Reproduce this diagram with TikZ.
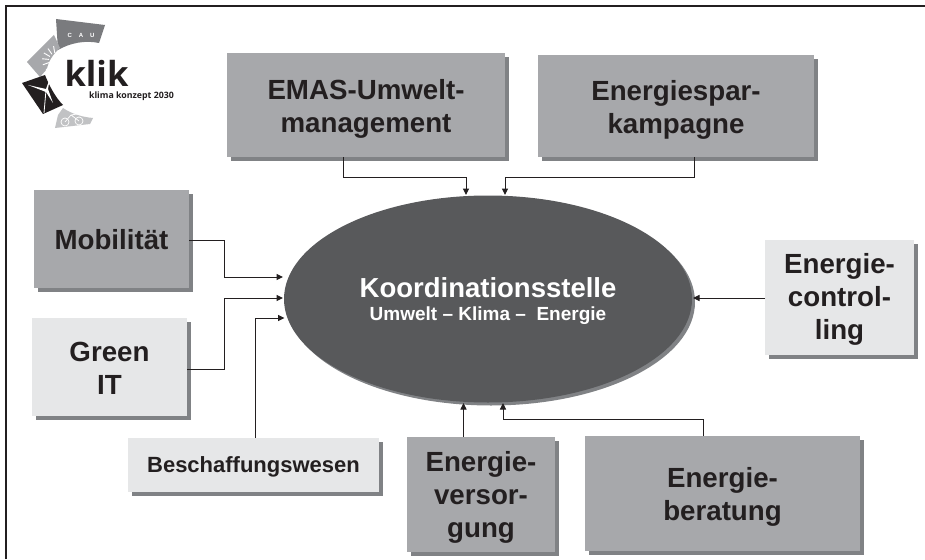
\documentclass[tikz,border=0pt]{standalone}
\usepackage{fontspec}
\setmainfont{Liberation Sans}
\newfontfamily\logofont{Open Sans}
\usetikzlibrary{arrows.meta,shapes.geometric,shadows}
\definecolor{midgrey}{HTML}{A7A8AB}
\definecolor{lightgrey}{HTML}{E6E7E8}
\definecolor{shadowgrey}{HTML}{808285}
\definecolor{darkgrey}{HTML}{58595B}
\definecolor{inkblack}{HTML}{231F20}
\newcommand\topgap[1]{\rule{0pt}{#1pt}}
\tikzset{
  sized/.style 2 args={minimum width=#1pt,minimum height=#2pt},
  basebox/.style={rectangle,inner sep=0pt,outer sep=0pt,align=center,text=inkblack,
    font=\fontsize{27.7}{33}\selectfont\bfseries,
    general shadow={shadow xshift=4pt,shadow yshift=-4pt,fill=shadowgrey}},
  midbox/.style={basebox,fill=midgrey},
  lightbox/.style={basebox,fill=lightgrey},
  conn/.style={draw=inkblack,line width=1pt,-{Triangle[length=6.5pt,width=6pt]}},
  hub/.style={ellipse,fill=darkgrey,inner sep=0pt,outer sep=0pt,text=white,align=center,
    general shadow={shadow xshift=3pt,shadow yshift=-3pt,fill=shadowgrey}},
}
\begin{document}
\begin{tikzpicture}[x=1pt,y=-1pt]
\useasboundingbox (0,0) rectangle (925,559);
\fill[white] (0,0) rectangle (925,559);
% frame
\draw[inkblack,line width=1.2pt] (6,559) -- (6,6) -- (925,6);
% logo
\fill[shadowgrey!95!black] (56,19) -- (105,25) -- (99,43) .. controls (85,40) and (70,43) .. (58,50) -- cycle;
\fill[midgrey] (27,62) -- (54,35) -- (60,48) .. controls (53,54) and (48,62) .. (47,69) -- (40,77) -- cycle;
\fill[inkblack] (22,83) -- (45,75) .. controls (49,85) and (55,97) .. (63,105) -- (43,114) -- cycle;
\draw[white,line width=.8pt] (46,90) -- (44,113);
\fill[white] (46,89) -- (28,85) -- (46,92) -- (53,103) -- (48,89) -- (50,78) -- cycle;
\fill[midgrey!70] (63,108) .. controls (72,114) and (82,117) .. (93,118) -- (90,124) -- (55,128) -- (58,115) -- cycle;
\draw[white,line width=.7pt] (65,122) circle (4) (79,121) circle (4);
\draw[white,line width=.7pt] (65,122) -- (71,115) -- (79,121) (71,115) -- (77,114);
\foreach \a in {100,125,150,175,200,225}{\draw[white,line width=.9pt] ({56+7*cos(\a)},{60-7*sin(\a)}) -- ({56+14*cos(\a)},{60-14*sin(\a)});}
\node[text=white,font=\fontsize{6}{6}\selectfont\bfseries] (cau) at (81,35) {C\hspace{7pt}A\hspace{7pt}U};
\node[text=inkblack,font=\logofont\fontsize{34.5}{35}\selectfont\bfseries,inner sep=0pt] (klik) at (96.5,73) {klik};
\node[text=inkblack,font=\logofont\fontsize{8.8}{9}\selectfont\bfseries,inner sep=0pt] (klimatext) at (131.5,96) {klima konzept 2030};
% hub
\node[hub,minimum width=408pt,minimum height=207pt] (koord) at (488,299) {};
\node[text=white,font=\fontsize{27.5}{30}\selectfont\bfseries,inner sep=0pt] (koordtitle) at (488,288) {Koordinationsstelle};
\node[text=white,font=\fontsize{19}{20}\selectfont\bfseries,inner sep=0pt] (koordsub) at (488,316) {Umwelt -- Klima --\ \ Energie};
% boxes
\node[midbox,sized={278}{104}] (emas) at (366,105) {\topgap{28}EMAS-Umwelt-\\management};
\node[midbox,sized={276}{102}] (spar) at (676,106) {\topgap{28}Energiespar-\\kampagne};
\node[midbox,sized={155}{98}] (mob) at (111.5,239) {\topgap{22}Mobilität};
\node[lightbox,sized={155}{98}] (green) at (109.5,367) {\topgap{22}Green\\IT};
\node[lightbox,sized={149}{115}] (ctrl) at (839.5,297.5) {\topgap{24}Energie-\\control-\\ling};
\node[lightbox,sized={251}{54},font=\fontsize{22}{26}\selectfont\bfseries] (besch) at (253.5,465) {\topgap{20}Beschaffungswesen};
\node[midbox,sized={148}{115}] (vers) at (481,494.5) {\topgap{26}Energie-\\versor-\\gung};
\node[midbox,sized={275}{115}] (berat) at (722.5,493.5) {\topgap{27}Energie-\\beratung};
% connector ends on the hub side
\coordinate (inemas) at (466,195);
\coordinate (inspar) at (505,195);
\coordinate (inmob) at (283,277);
\coordinate (ingreen) at (283,298);
\coordinate (inbesch) at (284.5,318);
\coordinate (inctrl) at (693,298);
\coordinate (invers) at (463.5,403);
\coordinate (inberat) at (503,403);
% connectors
\draw[conn] ([xshift=-23pt]emas.south) -- ++(0,20) -| (inemas);
\draw[conn] ([xshift=18pt]spar.south) -- ++(0,20) -| (inspar);
\draw[conn] ([yshift=-1.5pt]mob.east) -| (224,277) -- (inmob);
\draw[conn] ([yshift=-2.5pt]green.east) -| (224,298) -- (ingreen);
\draw[conn] ([xshift=1.5pt]besch.north) |- (inbesch);
\draw[conn] (ctrl.west |- inctrl) -- (inctrl);
\draw[conn] (vers.north -| invers) -- (invers);
\draw[conn] ([xshift=-19.5pt]berat.north) -- ++(0,-17) -| (inberat);
\end{tikzpicture}
\end{document}
